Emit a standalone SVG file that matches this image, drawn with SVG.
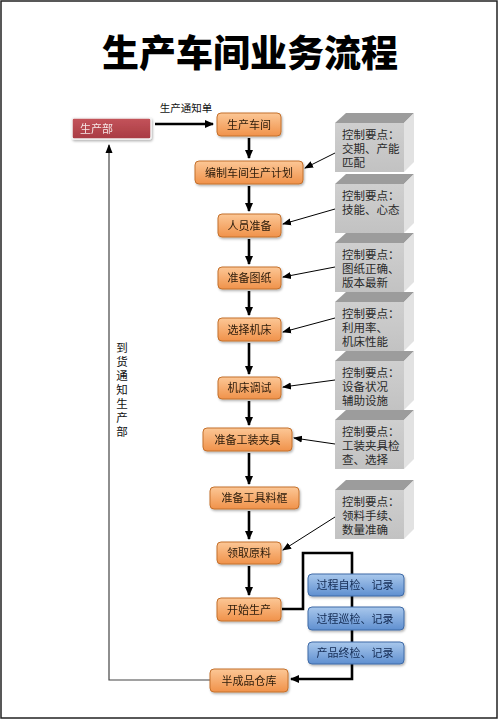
<svg xmlns="http://www.w3.org/2000/svg" width="500" height="721" viewBox="0 0 500 721">
<style>
.cjk{font-family:"Noto Sans CJK SC","Noto Sans",sans-serif}
.title{font-size:37px;font-weight:900;fill:#000}
.ob{fill:url(#og);stroke:#c4702c;stroke-width:1}
.bb{fill:url(#bg);stroke:#3f6aa6;stroke-width:1}
.ot{font-size:11px;fill:#2a1a0a;text-anchor:middle}
.bt{font-size:11px;fill:#132a52;text-anchor:middle}
.gf{fill:url(#gg)}
.gt{fill:#9c9c9c}
.gs{fill:#e2e2e2}
.gtx{font-size:11.5px;fill:#2a2a2a}
.thick{stroke:#000;stroke-width:2.6;fill:none}
.thin{stroke:#000;stroke-width:1;fill:none}
.fb{stroke:#444;stroke-width:1.2;fill:none}
.lbl{font-size:10.5px;fill:#111}
.vt{font-size:11.5px;fill:#111;writing-mode:vertical-rl;letter-spacing:2.5px}
</style>
<defs>
<linearGradient id="og" x1="0" y1="0" x2="0" y2="1">
<stop offset="0" stop-color="#fcc796"/><stop offset="1" stop-color="#f0924a"/>
</linearGradient>
<linearGradient id="bg" x1="0" y1="0" x2="0" y2="1">
<stop offset="0" stop-color="#a9c8ec"/><stop offset="1" stop-color="#5f8fd0"/>
</linearGradient>
<linearGradient id="gg" x1="0" y1="0" x2="0" y2="1">
<stop offset="0" stop-color="#cfcfcf"/><stop offset="1" stop-color="#c2c2c2"/>
</linearGradient>
<linearGradient id="rg" x1="0" y1="0" x2="0" y2="1">
<stop offset="0" stop-color="#c4545b"/><stop offset="1" stop-color="#a83a42"/>
</linearGradient>
<filter id="sh" x="-10%" y="-20%" width="130%" height="160%">
<feDropShadow dx="1" dy="1.5" stdDeviation="1" flood-color="#000" flood-opacity="0.3"/>
</filter>
<marker id="ah" markerWidth="10" markerHeight="10" refX="8" refY="5" orient="auto" markerUnits="userSpaceOnUse">
<path d="M0,1 L9,5 L0,9 Z" fill="#000"/>
</marker>
<marker id="as" markerWidth="10" markerHeight="10" refX="8" refY="5" orient="auto" markerUnits="userSpaceOnUse">
<path d="M0,1.5 L9,5 L0,8.5 Z" fill="#000"/>
</marker>
</defs>

<rect x="0" y="0" width="500" height="721" fill="#fff"/>
<rect x="1" y="1" width="496" height="717" fill="none" stroke="#222" stroke-width="1.5"/>

<text class="cjk title" x="250" y="67" text-anchor="middle">生产车间业务流程</text>

<!-- connectors -->
<g id="connectors">
<line class="thick" x1="155" y1="124" x2="213" y2="124" marker-end="url(#ah)"/>
<text class="cjk lbl" x="186" y="112" text-anchor="middle">生产通知单</text>
<line class="thick" x1="249" y1="138" x2="249" y2="158" marker-end="url(#ah)"/>
<line class="thick" x1="249" y1="186" x2="249" y2="211" marker-end="url(#ah)"/>
<line class="thick" x1="249" y1="239" x2="249" y2="264" marker-end="url(#ah)"/>
<line class="thick" x1="249" y1="291" x2="249" y2="315" marker-end="url(#ah)"/>
<line class="thick" x1="249" y1="343" x2="249" y2="374" marker-end="url(#ah)"/>
<line class="thick" x1="249" y1="401" x2="249" y2="425" marker-end="url(#ah)"/>
<line class="thick" x1="249" y1="453" x2="249" y2="484" marker-end="url(#ah)"/>
<line class="thick" x1="249" y1="511" x2="249" y2="539" marker-end="url(#ah)"/>
<line class="thick" x1="249" y1="566" x2="249" y2="595" marker-end="url(#ah)"/>
<polyline class="thick" points="282,609 303,609 303,553 352,553 352,679 291,679" marker-end="url(#ah)"/>
<polyline class="fb" points="210,680 109,680 109,145" marker-end="url(#as)"/>
<text class="cjk vt" x="122" y="342">到货通知生产部</text>
<line class="thin" x1="335" y1="153" x2="305" y2="168" marker-end="url(#as)"/>
<line class="thin" x1="335" y1="209" x2="283" y2="224" marker-end="url(#as)"/>
<line class="thin" x1="335" y1="267" x2="283" y2="277" marker-end="url(#as)"/>
<line class="thin" x1="335" y1="318" x2="283" y2="332" marker-end="url(#as)"/>
<line class="thin" x1="335" y1="380" x2="283" y2="387" marker-end="url(#as)"/>
<line class="thin" x1="335" y1="444" x2="294" y2="438" marker-end="url(#as)"/>
<line class="thin" x1="335" y1="517" x2="283" y2="550" marker-end="url(#as)"/>
</g>

<!-- nodes -->
<g id="n-scb" filter="url(#sh)"><rect x="72" y="118" width="79" height="21" rx="2" fill="url(#rg)" stroke="#f4f4f4" stroke-width="1.5"/><text class="cjk" x="80" y="132.5" font-size="11" fill="#f6e6e6">生产部</text></g>
<g id="n1" filter="url(#sh)"><rect class="ob" x="217" y="113" width="64" height="23" rx="4"/><text class="cjk ot" x="249" y="128.5">生产车间</text></g>
<g id="n2" filter="url(#sh)"><rect class="ob" x="195" y="161" width="108" height="23" rx="4"/><text class="cjk ot" x="249" y="176.5">编制车间生产计划</text></g>
<g id="n3" filter="url(#sh)"><rect class="ob" x="218" y="214" width="63" height="23" rx="4"/><text class="cjk ot" x="249.5" y="229.5">人员准备</text></g>
<g id="n4" filter="url(#sh)"><rect class="ob" x="218" y="267" width="63" height="22" rx="4"/><text class="cjk ot" x="249.5" y="282">准备图纸</text></g>
<g id="n5" filter="url(#sh)"><rect class="ob" x="218" y="318" width="63" height="23" rx="4"/><text class="cjk ot" x="249.5" y="333.5">选择机床</text></g>
<g id="n6" filter="url(#sh)"><rect class="ob" x="218" y="377" width="63" height="22" rx="4"/><text class="cjk ot" x="249.5" y="392">机床调试</text></g>
<g id="n7" filter="url(#sh)"><rect class="ob" x="203" y="428" width="89" height="23" rx="4"/><text class="cjk ot" x="247.5" y="443.5">准备工装夹具</text></g>
<g id="n8" filter="url(#sh)"><rect class="ob" x="210" y="487" width="89" height="22" rx="4"/><text class="cjk ot" x="254.5" y="502">准备工具料框</text></g>
<g id="n9" filter="url(#sh)"><rect class="ob" x="217" y="542" width="64" height="22" rx="4"/><text class="cjk ot" x="249" y="557">领取原料</text></g>
<g id="n10" filter="url(#sh)"><rect class="ob" x="217" y="598" width="64" height="23" rx="4"/><text class="cjk ot" x="249" y="613.5">开始生产</text></g>
<g id="n11" filter="url(#sh)"><rect class="ob" x="210" y="669" width="78" height="23" rx="4"/><text class="cjk ot" x="249" y="684.5">半成品仓库</text></g>

<g id="b1" filter="url(#sh)"><rect class="bb" x="308" y="574" width="96" height="22" rx="4"/><text class="cjk bt" x="355" y="589">过程自检、记录</text></g>
<g id="b2" filter="url(#sh)"><rect class="bb" x="308" y="607" width="96" height="23" rx="4"/><text class="cjk bt" x="355" y="622.5">过程巡检、记录</text></g>
<g id="b3" filter="url(#sh)"><rect class="bb" x="308" y="642" width="96" height="22" rx="4"/><text class="cjk bt" x="355" y="657">产品终检、记录</text></g>

<g id="c1" transform="translate(0,113)"><polygon class="gt" points="335,10 346,0 414,0 404,10"/><polygon class="gs" points="404,10 414,0 414,49 404,59"/><rect class="gf" x="335" y="10" width="69" height="49"/><text class="cjk gtx"><tspan x="342" y="26">控制要点：</tspan><tspan x="342" y="40">交期、产能</tspan><tspan x="342" y="54">匹配</tspan></text></g>
<g id="c2" transform="translate(0,174)"><polygon class="gt" points="335,10 346,0 414,0 404,10"/><polygon class="gs" points="404,10 414,0 414,49 404,59"/><rect class="gf" x="335" y="10" width="69" height="49"/><text class="cjk gtx"><tspan x="342" y="26">控制要点：</tspan><tspan x="342" y="40">技能、心态</tspan></text></g>
<g id="c3" transform="translate(0,233)"><polygon class="gt" points="335,10 346,0 414,0 404,10"/><polygon class="gs" points="404,10 414,0 414,49 404,59"/><rect class="gf" x="335" y="10" width="69" height="49"/><text class="cjk gtx"><tspan x="342" y="26">控制要点：</tspan><tspan x="342" y="40">图纸正确、</tspan><tspan x="342" y="54">版本最新</tspan></text></g>
<g id="c4" transform="translate(0,292)"><polygon class="gt" points="335,10 346,0 414,0 404,10"/><polygon class="gs" points="404,10 414,0 414,49 404,59"/><rect class="gf" x="335" y="10" width="69" height="49"/><text class="cjk gtx"><tspan x="342" y="26">控制要点：</tspan><tspan x="342" y="40">利用率、</tspan><tspan x="342" y="54">机床性能</tspan></text></g>
<g id="c5" transform="translate(0,351)"><polygon class="gt" points="335,10 346,0 414,0 404,10"/><polygon class="gs" points="404,10 414,0 414,49 404,59"/><rect class="gf" x="335" y="10" width="69" height="49"/><text class="cjk gtx"><tspan x="342" y="26">控制要点：</tspan><tspan x="342" y="40">设备状况</tspan><tspan x="342" y="54">辅助设施</tspan></text></g>
<g id="c6" transform="translate(0,410)"><polygon class="gt" points="335,10 346,0 414,0 404,10"/><polygon class="gs" points="404,10 414,0 414,49 404,59"/><rect class="gf" x="335" y="10" width="69" height="49"/><text class="cjk gtx"><tspan x="342" y="26">控制要点：</tspan><tspan x="342" y="40">工装夹具检</tspan><tspan x="342" y="54">查、选择</tspan></text></g>
<g id="c7" transform="translate(0,480)"><polygon class="gt" points="335,10 346,0 414,0 404,10"/><polygon class="gs" points="404,10 414,0 414,49 404,59"/><rect class="gf" x="335" y="10" width="69" height="49"/><text class="cjk gtx"><tspan x="342" y="26">控制要点：</tspan><tspan x="342" y="40">领料手续、</tspan><tspan x="342" y="54">数量准确</tspan></text></g>
</svg>
